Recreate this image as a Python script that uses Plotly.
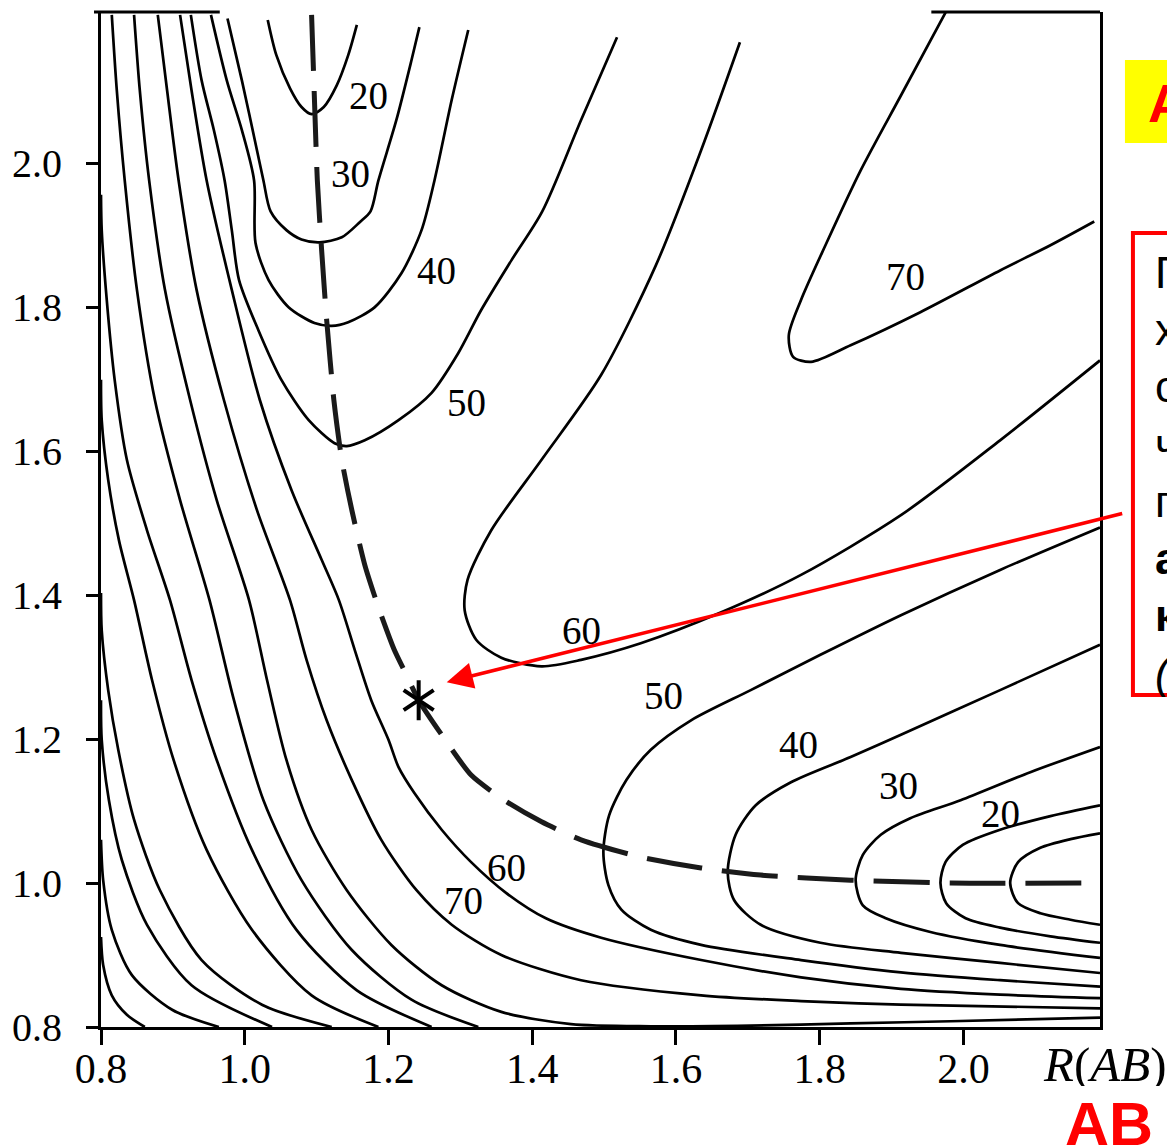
import plotly.graph_objects as go

# tick labels
x_ticks = [0.8, 1.0, 1.2, 1.4, 1.6, 1.8, 2.0]
y_ticks = [0.8, 1.0, 1.2, 1.4, 1.6, 1.8, 2.0]

# minimum energy path (dashed) and saddle point
path_x = [1.093, 1.097, 1.101, 1.107, 1.114, 1.124, 1.135, 1.149, 1.167, 1.186, 1.208, 1.225,
          1.242, 1.274, 1.315, 1.361, 1.413, 1.468, 1.551, 1.635, 1.718, 1.843, 1.982, 2.190]
path_y = [2.206, 2.088, 1.976, 1.879, 1.782, 1.671, 1.588, 1.518, 1.442, 1.383, 1.324, 1.289,
          1.254, 1.206, 1.150, 1.115, 1.085, 1.060, 1.036, 1.021, 1.011, 1.004, 1.000, 1.000]
saddle = (1.242, 1.254)

# entrance valley (top)
c20e_x = [1.032, 1.044, 1.063, 1.079, 1.093, 1.110, 1.128, 1.144, 1.156]
c20e_y = [2.199, 2.150, 2.104, 2.078, 2.068, 2.078, 2.108, 2.150, 2.192]
c30e_x = [0.976, 0.996, 1.017, 1.026, 1.036, 1.058, 1.079, 1.104, 1.135, 1.160, 1.175, 1.186, 1.211, 1.232, 1.243]
c30e_y = [2.201, 2.115, 2.018, 1.976, 1.933, 1.907, 1.894, 1.890, 1.897, 1.918, 1.933, 1.976, 2.060, 2.143, 2.189]
c40e_x = [0.953, 0.975, 0.996, 1.013, 1.015, 1.033, 1.061, 1.097, 1.121, 1.144, 1.181, 1.218, 1.246, 1.264, 1.288, 1.311]
c40e_y = [2.206, 2.115, 2.046, 1.976, 1.889, 1.838, 1.800, 1.778, 1.774, 1.779, 1.800, 1.847, 1.907, 1.976, 2.088, 2.185]
c50e_x = [0.925, 0.940, 0.957, 0.972, 0.982, 0.992, 1.019, 1.051, 1.089, 1.125, 1.142, 1.167, 1.214, 1.260,
          1.297, 1.329, 1.371, 1.414, 1.468, 1.518]
c50e_y = [2.206, 2.115, 2.046, 1.976, 1.907, 1.838, 1.768, 1.699, 1.643, 1.611, 1.607, 1.615, 1.643, 1.681,
          1.736, 1.796, 1.865, 1.933, 2.060, 2.175]

# exit valley (right)
c50x_x = [2.190, 2.051, 1.913, 1.801, 1.704, 1.621, 1.565, 1.531, 1.507, 1.499, 1.506, 1.524, 1.565, 1.635,
          1.774, 1.913, 2.051, 2.190]
c50x_y = [1.494, 1.435, 1.372, 1.317, 1.268, 1.226, 1.185, 1.143, 1.094, 1.043, 0.997, 0.963, 0.935, 0.914,
          0.893, 0.876, 0.865, 0.856]
c40x_x = [2.190, 2.051, 1.913, 1.843, 1.760, 1.711, 1.683, 1.672, 1.681, 1.718, 1.801, 1.913, 2.051, 2.190]
c40x_y = [1.331, 1.268, 1.206, 1.175, 1.140, 1.108, 1.067, 1.015, 0.976, 0.942, 0.917, 0.903, 0.889, 0.875]
c30x_x = [2.190, 2.093, 1.996, 1.926, 1.885, 1.860, 1.850, 1.860, 1.892, 1.954, 2.051, 2.190]
c30x_y = [1.189, 1.154, 1.115, 1.090, 1.067, 1.039, 1.004, 0.969, 0.951, 0.932, 0.914, 0.896]
c20x_x = [2.190, 2.121, 2.051, 1.999, 1.975, 1.968, 1.976, 2.003, 2.051, 2.121, 2.190]
c20x_y = [1.108, 1.093, 1.074, 1.053, 1.029, 1.000, 0.972, 0.951, 0.938, 0.926, 0.917]
c10x_x = [2.190, 2.149, 2.107, 2.076, 2.065, 2.076, 2.107, 2.149, 2.190]
c10x_y = [1.069, 1.061, 1.049, 1.029, 1.000, 0.972, 0.958, 0.949, 0.942]

# plateau side
c60p_x = [1.689, 1.635, 1.572, 1.496, 1.413, 1.343, 1.310, 1.306, 1.322, 1.357, 1.413, 1.468, 1.551, 1.663,
          1.774, 1.913, 2.051, 2.190]
c60p_y = [2.168, 2.018, 1.858, 1.706, 1.588, 1.490, 1.421, 1.379, 1.338, 1.313, 1.301, 1.310, 1.333, 1.376,
          1.428, 1.511, 1.615, 1.726]
c70p_x = [1.976, 1.913, 1.857, 1.808, 1.774, 1.757, 1.763, 1.788, 1.843, 1.940, 2.051, 2.121, 2.182]
c70p_y = [2.211, 2.094, 1.990, 1.886, 1.810, 1.761, 1.731, 1.724, 1.747, 1.793, 1.851, 1.886, 1.919]

# repulsive wall (bottom left)
c60w_x = [0.910, 0.926, 0.947, 0.982, 1.021, 1.065, 1.107, 1.131, 1.153, 1.176, 1.200, 1.214, 1.236, 1.274,
          1.315, 1.364, 1.419, 1.496, 1.635, 1.774, 1.913, 2.051, 2.190]
c60w_y = [2.206, 2.101, 1.976, 1.824, 1.671, 1.546, 1.449, 1.393, 1.324, 1.254, 1.199, 1.161, 1.125, 1.074,
          1.029, 0.986, 0.951, 0.924, 0.893, 0.869, 0.853, 0.845, 0.840]
c70w_x = [0.879, 0.892, 0.908, 0.933, 0.971, 1.017, 1.063, 1.086, 1.114, 1.149, 1.190, 1.239, 1.288, 1.357,
          1.468, 1.635, 1.774, 1.913, 2.190]
c70w_y = [2.206, 2.101, 1.976, 1.824, 1.671, 1.518, 1.393, 1.310, 1.226, 1.143, 1.060, 0.990, 0.942, 0.900,
          0.865, 0.844, 0.836, 0.831, 0.826]
c80w_x = [0.846, 0.854, 0.867, 0.889, 0.924, 0.961, 1.006, 1.031, 1.058, 1.093, 1.142, 1.204, 1.274, 1.357,
          1.454, 1.565, 1.704, 1.843, 1.982, 2.190]
c80w_y = [2.206, 2.101, 1.976, 1.824, 1.671, 1.532, 1.393, 1.282, 1.171, 1.074, 0.990, 0.914, 0.858, 0.821,
          0.804, 0.801, 0.802, 0.805, 0.808, 0.813]
c90w_x = [0.815, 0.822, 0.833, 0.850, 0.875, 0.910, 0.951, 0.985, 1.026, 1.079, 1.149, 1.232, 1.325]
c90w_y = [2.206, 2.101, 1.976, 1.824, 1.671, 1.532, 1.393, 1.254, 1.115, 1.004, 0.907, 0.838, 0.800]
c100w_x = [0.800, 0.801, 0.808, 0.819, 0.836, 0.864, 0.896, 0.926, 0.961, 1.010, 1.072, 1.156, 1.260]
c100w_y = [1.956, 1.907, 1.810, 1.699, 1.588, 1.490, 1.393, 1.282, 1.171, 1.046, 0.935, 0.851, 0.800]
c110w_x = [0.800, 0.801, 0.810, 0.825, 0.846, 0.871, 0.901, 0.947, 1.010, 1.093, 1.186]
c110w_y = [1.699, 1.643, 1.560, 1.476, 1.393, 1.282, 1.171, 1.046, 0.935, 0.844, 0.800]
c120w_x = [0.800, 0.801, 0.810, 0.824, 0.846, 0.882, 0.940, 1.024, 1.121]
c120w_y = [1.403, 1.351, 1.268, 1.185, 1.088, 0.990, 0.893, 0.831, 0.800]
c130w_x = [0.800, 0.801, 0.811, 0.829, 0.864, 0.926, 1.038]
c130w_y = [1.254, 1.199, 1.115, 1.032, 0.942, 0.858, 0.800]
c140w_x = [0.800, 0.803, 0.815, 0.843, 0.899, 0.964]
c140w_y = [1.060, 1.004, 0.935, 0.872, 0.824, 0.800]
c150w_x = [0.800, 0.803, 0.815, 0.836, 0.861]
c150w_y = [0.925, 0.886, 0.844, 0.817, 0.800]

# contour labels
label_text = ["20", "30", "40", "50", "70", "60", "50", "40", "30", "20", "60", "70"]
label_x = [1.172, 1.147, 1.267, 1.308, 1.919, 1.468, 1.582, 1.771, 1.910, 2.051, 1.364, 1.304]
label_y = [2.094, 1.986, 1.851, 1.668, 1.842, 1.351, 1.261, 1.192, 1.136, 1.097, 1.021, 0.976]

note_lines = ["Гипотетическая точка", "хребта – седловая точка,", "соответствующая",
              "частице, которая", "получила название",
              "<b>активированного</b>", "<b>комплекса</b>", "<i>(A···B···C)</i>"]

contours = [
    (c20e_x, c20e_y), (c30e_x, c30e_y), (c40e_x, c40e_y), (c50e_x, c50e_y),
    (c50x_x, c50x_y), (c40x_x, c40x_y), (c30x_x, c30x_y), (c20x_x, c20x_y), (c10x_x, c10x_y),
    (c60p_x, c60p_y), (c70p_x, c70p_y),
    (c60w_x, c60w_y), (c70w_x, c70w_y), (c80w_x, c80w_y), (c90w_x, c90w_y), (c100w_x, c100w_y),
    (c110w_x, c110w_y), (c120w_x, c120w_y), (c130w_x, c130w_y), (c140w_x, c140w_y), (c150w_x, c150w_y),
]

# page geometry: the page body adds an 8px margin, so the figure is 8px smaller
OFF = 8
W, H = 1175 - OFF, 1148 - OFF
L, R, T, B = 99 - OFF, 75, 12 - OFF, 121
PW, PH = W - L - R, H - T - B


def px(x):
    # screen pixel -> paper x
    return (x - OFF - L) / PW


def py(y):
    # screen pixel -> paper y
    return (T + PH - (y - OFF)) / PH


serif = "Liberation Serif"
sans = "Liberation Sans"

fig = go.Figure()
for xs, ys in contours:
    fig.add_trace(go.Scatter(x=xs, y=ys, mode='lines', hoverinfo='skip',
                             line=dict(color='black', width=2.7, shape='spline', smoothing=0.8)))

fig.add_trace(go.Scatter(x=path_x, y=path_y, mode='lines', hoverinfo='skip',
                         line=dict(color='#1a1a1a', width=5, dash='56px,20px', shape='spline', smoothing=0.6)))

for sym in ['y-up-open', 'y-down-open']:
    fig.add_trace(go.Scatter(x=[saddle[0]], y=[saddle[1]], mode='markers', hoverinfo='skip',
                             marker=dict(symbol=sym, size=25, color='black',
                                         line=dict(color='black', width=4))))

for t, x, y in zip(label_text, label_x, label_y):
    fig.add_annotation(x=x, y=y, text=t, showarrow=False, xanchor='center', yanchor='middle',
                       font=dict(family=serif, size=39, color='black'))

# red arrow to the saddle point
fig.add_annotation(x=1.281, y=1.279, ax=677, ay=-169, text="", showarrow=True,
                   arrowcolor='red', arrowwidth=3.5, arrowhead=2, arrowsize=1.5, standoff=0)

# axis title and side labels
fig.add_annotation(xref='paper', yref='paper', x=px(1105), y=py(1064), xanchor='center', yanchor='middle',
                   text="<i>R</i>(<i>AB</i>)", showarrow=False, height=44,
                   font=dict(family=serif, size=49, color='black'))
fig.add_annotation(xref='paper', yref='paper', x=px(1109), y=py(1124), xanchor='center', yanchor='middle',
                   text="<b>AB</b>", showarrow=False, height=46,
                   font=dict(family=sans, size=61, color='red'))
fig.add_annotation(xref='paper', yref='paper', x=px(1146), y=py(103), xanchor='left', yanchor='middle',
                   text="<b>A + BC → AB + C</b>", showarrow=False,
                   font=dict(family=sans, size=54, color='red'))
fig.add_annotation(xref='paper', yref='paper', x=px(1153), y=py(246), xanchor='left', yanchor='top',
                   align='left', text="<br>".join(note_lines), showarrow=False,
                   font=dict(family=sans, size=44, color='black'))

fig.update_layout(
    width=W, height=H, margin=dict(l=L, r=R, t=T, b=B, pad=0),
    paper_bgcolor='white', plot_bgcolor='white', showlegend=False,
    shapes=[
        dict(type='rect', xref='paper', yref='paper', x0=px(1125), x1=px(1400), y0=py(143), y1=py(60),
             fillcolor='yellow', line=dict(width=0), layer='below'),
        dict(type='rect', xref='paper', yref='paper', x0=px(1133), x1=px(1500), y0=py(695), y1=py(233),
             line=dict(color='red', width=4)),
        dict(type='line', xref='paper', yref='paper', x0=px(92), x1=px(218), y0=1, y1=1,
             line=dict(color='black', width=3)),
        dict(type='line', xref='paper', yref='paper', x0=px(931), x1=1, y0=1, y1=1,
             line=dict(color='black', width=3)),
    ],
    xaxis=dict(range=[0.8, 2.19], tickvals=x_ticks, ticktext=[f"{v:.1f}" for v in x_ticks],
               showgrid=False, zeroline=False, showline=True, linecolor='black', linewidth=3,
               ticks='outside', ticklen=15, tickwidth=3, tickcolor='black', ticklabelstandoff=-12,
               tickfont=dict(family=serif, size=42, color='black')),
    yaxis=dict(range=[0.8, 2.21], tickvals=y_ticks, ticktext=[f"{v:.1f}" for v in y_ticks],
               showgrid=False, zeroline=False, showline=True, linecolor='black', linewidth=3, mirror=True,
               ticks='outside', ticklen=12, tickwidth=3, tickcolor='black', ticklabelstandoff=16,
               tickfont=dict(family=serif, size=40, color='black')),
)

fig.write_html("out.html")
